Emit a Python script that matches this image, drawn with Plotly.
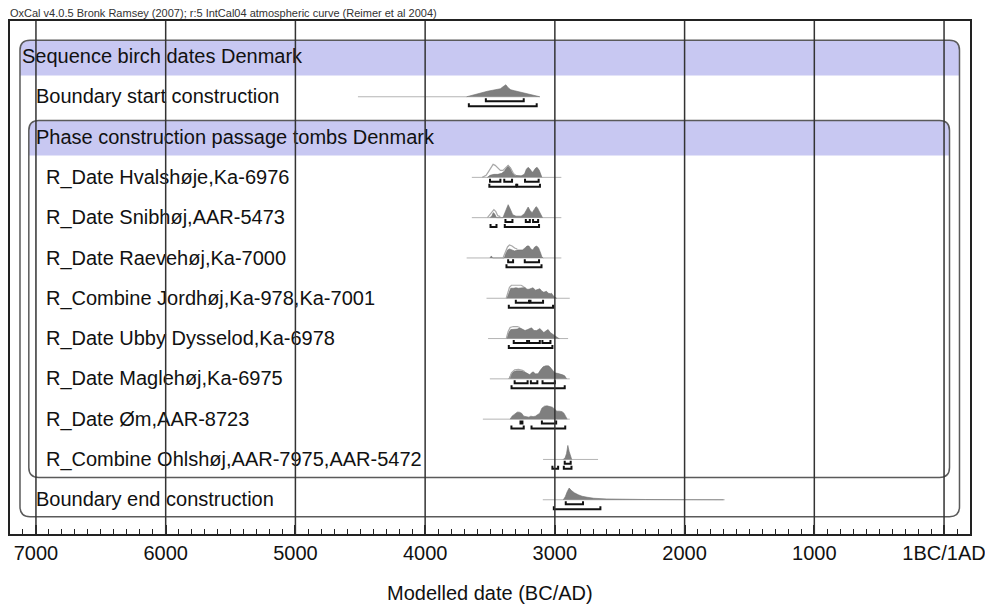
import plotly.graph_objects as go

# ---------------- data (years BC; heights in px) ----------------
row_labels = [
    "Sequence birch dates Denmark",
    "Boundary start construction",
    "Phase construction passage tombs Denmark",
    "R_Date Hvalshøje,Ka-6976",
    "R_Date Snibhøj,AAR-5473",
    "R_Date Raevehøj,Ka-7000",
    "R_Combine Jordhøj,Ka-978,Ka-7001",
    "R_Date Ubby Dysselod,Ka-6978",
    "R_Date Maglehøj,Ka-6975",
    "R_Date Øm,AAR-8723",
    "R_Combine Ohlshøj,AAR-7975,AAR-5472",
    "Boundary end construction",
]
label_x = [7108, 7000, 7000, 6923, 6923, 6923, 6923, 6923, 6923, 6923, 6923, 7000]

tick_years = [7000, 6000, 5000, 4000, 3000, 2000, 1000, 0]
tick_text = ["7000", "6000", "5000", "4000", "3000", "2000", "1000", "1BC/1AD"]

# baseline extents (start, end) per plotted row
start_line = (4518, 3116)
hval_line = (3640, 2950)
snib_line = (3640, 2950)
raev_line = (3680, 2950)
jord_line = (3527, 2885)
ubby_line = (3515, 2898)
magl_line = (3501, 2885)
om_line = (3555, 2885)
ohls_line = (3091, 2667)
end_line = (3093, 1691)

# posterior (dark) shapes: (year, height)
start_post = [(3680, 0), (3640, 1.5), (3600, 3), (3560, 4.5), (3520, 5.5), (3480, 6.5), (3450, 7),
              (3420, 8), (3400, 10), (3378, 12), (3360, 9), (3340, 7), (3310, 6), (3280, 5),
              (3250, 4), (3220, 3.5), (3190, 2.5), (3160, 1.5), (3130, 0.5), (3116, 0)]
hval_post = [(3520, 0), (3500, 2), (3470, 3), (3440, 3), (3410, 4), (3390, 6), (3375, 9), (3360, 12),
             (3345, 10), (3330, 5), (3310, 2), (3290, 1.5), (3260, 1.5), (3235, 3), (3220, 8),
             (3206, 10), (3190, 8), (3175, 5), (3165, 6), (3150, 9), (3137, 10), (3120, 7),
             (3110, 3), (3100, 0)]
snib_post = [(3500, 0), (3485, 2), (3475, 5), (3465, 4), (3450, 0), (3400, 0), (3385, 5), (3370, 10),
             (3360, 13), (3345, 9), (3325, 3), (3300, 1.5), (3260, 1.5), (3235, 4), (3215, 9),
             (3206, 10.6), (3190, 7), (3175, 5), (3160, 8), (3145, 11), (3135, 10), (3120, 6),
             (3105, 1), (3095, 0)]
raev_post = [(3500, 0), (3490, 2), (3480, 0), (3390, 0), (3380, 4), (3365, 8), (3350, 9), (3335, 8),
             (3310, 7), (3290, 8), (3270, 8), (3250, 8), (3230, 10), (3215, 12), (3200, 12),
             (3185, 9), (3170, 8), (3155, 11), (3140, 12), (3125, 10), (3110, 5), (3100, 1), (3090, 0)]
jord_post = [(3370, 0), (3355, 6), (3340, 10), (3320, 10), (3300, 10.5), (3280, 10), (3260, 10),
             (3245, 10.5), (3232, 11), (3215, 9), (3200, 9), (3185, 10), (3168, 10.5), (3150, 8),
             (3135, 9), (3116, 9.5), (3100, 7), (3085, 6), (3065, 7), (3050, 5), (3035, 4.5),
             (3026, 5), (3015, 3), (3001, 1), (2985, 0)]
ubby_post = [(3370, 0), (3355, 6), (3340, 9), (3310, 9), (3290, 9.5), (3270, 10.7), (3250, 9),
             (3230, 8), (3210, 9), (3195, 10), (3180, 10.7), (3160, 8), (3140, 8), (3116, 10),
             (3100, 8), (3085, 6), (3065, 8), (3052, 9), (3035, 6), (3015, 4), (3001, 3),
             (2985, 1), (2975, 0.5), (2965, 0)]
magl_post = [(3355, 0), (3340, 4), (3320, 7), (3296, 8), (3270, 8), (3245, 7.5), (3220, 6), (3200, 4),
             (3193, 4), (3180, 6), (3168, 7), (3150, 5), (3130, 5), (3110, 9), (3091, 12),
             (3070, 13), (3050, 13), (3039, 12), (3020, 9), (3001, 6), (2980, 5.5), (2960, 5),
             (2940, 4), (2924, 3), (2910, 0)]
om_post = [(3345, 0), (3330, 3), (3310, 5), (3290, 7), (3275, 7), (3257, 6), (3240, 3), (3220, 2.5),
           (3200, 2), (3185, 3), (3168, 2.5), (3150, 3), (3130, 5), (3116, 6), (3100, 11),
           (3080, 13), (3060, 13.3), (3040, 13), (3020, 12), (3001, 10), (2985, 8), (2965, 8),
           (2945, 7.5), (2930, 6), (2915, 2), (2905, 0)]
ohls_post = [(2935, 0), (2920, 2), (2910, 6), (2900, 14), (2890, 8), (2880, 3), (2870, 0)]
end_post = [(2935, 0), (2920, 3), (2905, 8), (2890, 11.7), (2870, 9), (2850, 7), (2820, 5),
            (2790, 3.5), (2750, 2.5), (2700, 1.5), (2600, 0.8), (2500, 0.5), (2300, 0.25),
            (2000, 0.1), (1700, 0)]

# likelihood (light outline) shapes: (year, height)
hval_like = [(3560, 0), (3530, 2), (3510, 6), (3490, 11), (3476, 13), (3460, 12), (3440, 9),
             (3420, 7), (3400, 7), (3380, 10), (3360, 12), (3340, 9), (3320, 4), (3300, 2)]
snib_like = [(3520, 0), (3500, 3), (3480, 7), (3470, 8), (3455, 6), (3440, 2), (3420, 1)]
raev_like = [(3400, 0), (3380, 6), (3365, 11), (3350, 13), (3330, 12), (3310, 10), (3290, 9)]
jord_like = [(3375, 0), (3365, 5), (3350, 11), (3335, 13), (3300, 13.3), (3260, 13), (3240, 11.5)]
ubby_like = [(3375, 0), (3360, 7), (3345, 11), (3320, 12), (3290, 12), (3270, 11)]
magl_like = [(3350, 0), (3335, 6), (3310, 9), (3280, 9.5), (3250, 8.5), (3230, 7)]

# highest posterior density ranges: 68.2% and 95.4%
start_r68 = [(3532, 3240)]
start_r95 = [(3663, 3140)]
hval_r68 = [(3500, 3420), (3390, 3330), (3230, 3125)]
hval_r95 = [(3505, 3298), (3290, 3115)]
snib_r68 = [(3381, 3327), (3224, 3193), (3168, 3129)]
snib_r95 = [(3496, 3450), (3386, 3122)]
raev_r68 = [(3360, 3322), (3232, 3122)]
raev_r95 = [(3373, 3103)]
jord_r68 = [(3301, 3199), (3188, 3091)]
jord_r95 = [(3355, 3014)]
ubby_r68 = [(3317, 3214), (3199, 3116), (3096, 3034)]
ubby_r95 = [(3355, 3019)]
magl_r68 = [(3310, 3210), (3185, 3135), (3095, 3000)]
magl_r95 = [(3334, 2924)]
om_r68 = [(3265, 3250), (3100, 2990)]
om_r95 = [(3335, 3240), (3180, 2920)]
ohls_r68 = [(2924, 2878)]
ohls_r95 = [(3019, 2975), (2931, 2872)]
end_r68 = [(2916, 2783)]
end_r95 = [(3008, 2649)]

# ---------------- styling / geometry ----------------
FONT = "Liberation Sans, Arial, sans-serif"
PX = 1 / 40.3          # rows per pixel
YEAR_PX = 1 / 0.1298   # years per pixel
X_RANGE = [7200, -200]
Y_RANGE = [11.85, -0.88]
LAV = "#c8c8f2"
BOX_COL = "#5a5a5a"
POST_COL = "#7f7f7f"
LIKE_COL = "#a9a9a9"
BASE_COL = "#b4b4b4"

fig = go.Figure()

def rounded_box(L, R, T, B, r_px=10):
    rx, ry = r_px * YEAR_PX, r_px * PX
    return (f"M {L-rx},{T} L {R+rx},{T} Q {R},{T} {R},{T+ry} L {R},{B-ry} "
            f"Q {R},{B} {R+rx},{B} L {L-rx},{B} Q {L},{B} {L},{B-ry} L {L},{T+ry} "
            f"Q {L},{T} {L-rx},{T} Z")

def band(L, R, T, H, r_px=10):
    rx, ry = r_px * YEAR_PX, r_px * PX
    return (f"M {L},{H} L {L},{T+ry} Q {L},{T} {L-rx},{T} L {R+rx},{T} "
            f"Q {R},{T} {R},{T+ry} L {R},{H} Z")

shapes = []
seq = dict(L=7123, R=-119, T=-0.40, B=11.42, H=0.47)
ph = dict(L=7055, R=-42, T=1.59, B=10.45, H=2.46)
for bx in (seq, ph):
    shapes.append(dict(type="path", path=band(bx["L"], bx["R"], bx["T"], bx["H"]),
                       fillcolor=LAV, line=dict(width=0), layer="below"))
    shapes.append(dict(type="path", path=rounded_box(bx["L"], bx["R"], bx["T"], bx["B"]),
                       line=dict(color=BOX_COL, width=1.5), fillcolor="rgba(0,0,0,0)", layer="below"))

# labels
for i, (lab, lx) in enumerate(zip(row_labels, label_x)):
    fig.add_trace(go.Scatter(x=[lx], y=[i + 0.04], mode="text", text=[lab],
                             textposition="middle right",
                             textfont=dict(family=FONT, size=20, color="#111"),
                             hoverinfo="skip", showlegend=False))

rows = [
    (1, start_line, start_post, None, start_r68, start_r95),
    (3, hval_line, hval_post, hval_like, hval_r68, hval_r95),
    (4, snib_line, snib_post, snib_like, snib_r68, snib_r95),
    (5, raev_line, raev_post, raev_like, raev_r68, raev_r95),
    (6, jord_line, jord_post, jord_like, jord_r68, jord_r95),
    (7, ubby_line, ubby_post, ubby_like, ubby_r68, ubby_r95),
    (8, magl_line, magl_post, magl_like, magl_r68, magl_r95),
    (9, om_line, om_post, None, om_r68, om_r95),
    (10, ohls_line, ohls_post, None, ohls_r68, ohls_r95),
    (11, end_line, end_post, None, end_r68, end_r95),
]

def brackets(ranges, y, tick=3 * PX):
    xs, ys = [], []
    for a, b in ranges:
        xs += [a, a, b, b, None]
        ys += [y - tick, y, y, y - tick, None]
    return xs, ys

for r, line, post, like, r68, r95 in rows:
    fig.add_trace(go.Scatter(x=list(line), y=[r, r], mode="lines",
                             line=dict(color=BASE_COL, width=1), hoverinfo="skip", showlegend=False))
    fig.add_trace(go.Scatter(x=[p[0] for p in post], y=[r - p[1] * PX for p in post],
                             mode="lines", fill="toself", fillcolor=POST_COL,
                             line=dict(color="#6e6e6e", width=0.6), hoverinfo="skip", showlegend=False))
    if like:
        fig.add_trace(go.Scatter(x=[p[0] for p in like], y=[r - p[1] * PX for p in like],
                                 mode="lines", line=dict(color=LIKE_COL, width=1.2),
                                 hoverinfo="skip", showlegend=False))
    for rng, off in ((r68, 4.4), (r95, 9.4)):
        xs, ys = brackets(rng, r + off * PX)
        fig.add_trace(go.Scatter(x=xs, y=ys, mode="lines", line=dict(color="#111", width=2),
                                 hoverinfo="skip", showlegend=False))

# vertical grid lines drawn on top
for t in tick_years:
    shapes.append(dict(type="line", x0=t, x1=t, y0=0, y1=1, xref="x", yref="y domain",
                       line=dict(color="#333", width=1.5), layer="above"))

fig.update_layout(
    width=985, height=606,
    margin=dict(l=10, r=15, t=21, b=72, autoexpand=False),
    paper_bgcolor="white", plot_bgcolor="white",
    shapes=shapes,
    showlegend=False,
    hovermode=False,
    xaxis=dict(range=X_RANGE, tickvals=tick_years, ticktext=tick_text, automargin=False,
               ticklabeloverflow="allow",
               ticks="inside", ticklen=9, tickwidth=2, tickcolor="#222",
               showline=True, linecolor="#222", linewidth=2, mirror=True,
               showgrid=False, zeroline=False,
               tickfont=dict(family=FONT, size=20, color="#111"),
               minor=dict(dtick=100, ticks="inside", ticklen=5, tickwidth=1, tickcolor="#222",
                          showgrid=False)),
    yaxis=dict(range=Y_RANGE, showline=True, linecolor="#222", linewidth=2, mirror=True,
               automargin=False,
               showgrid=False, zeroline=False, showticklabels=False, ticks=""),
    annotations=[
        dict(text="OxCal v4.0.5 Bronk Ramsey (2007); r:5 IntCal04 atmospheric curve (Reimer et al 2004)",
             xref="paper", yref="paper", x=-0.002, y=1.016, xanchor="left", yanchor="middle",
             showarrow=False, font=dict(family=FONT, size=11, color="#333")),
        dict(text="Modelled date (BC/AD)", xref="paper", yref="paper", x=0.5, y=-0.115,
             xanchor="center", yanchor="middle", showarrow=False,
             font=dict(family=FONT, size=20, color="#111")),
    ],
)

fig.write_html("out.html", config={"displayModeBar": False},
               post_script="document.body.style.margin='0px';"
                           "document.body.style.overflow='hidden';")
